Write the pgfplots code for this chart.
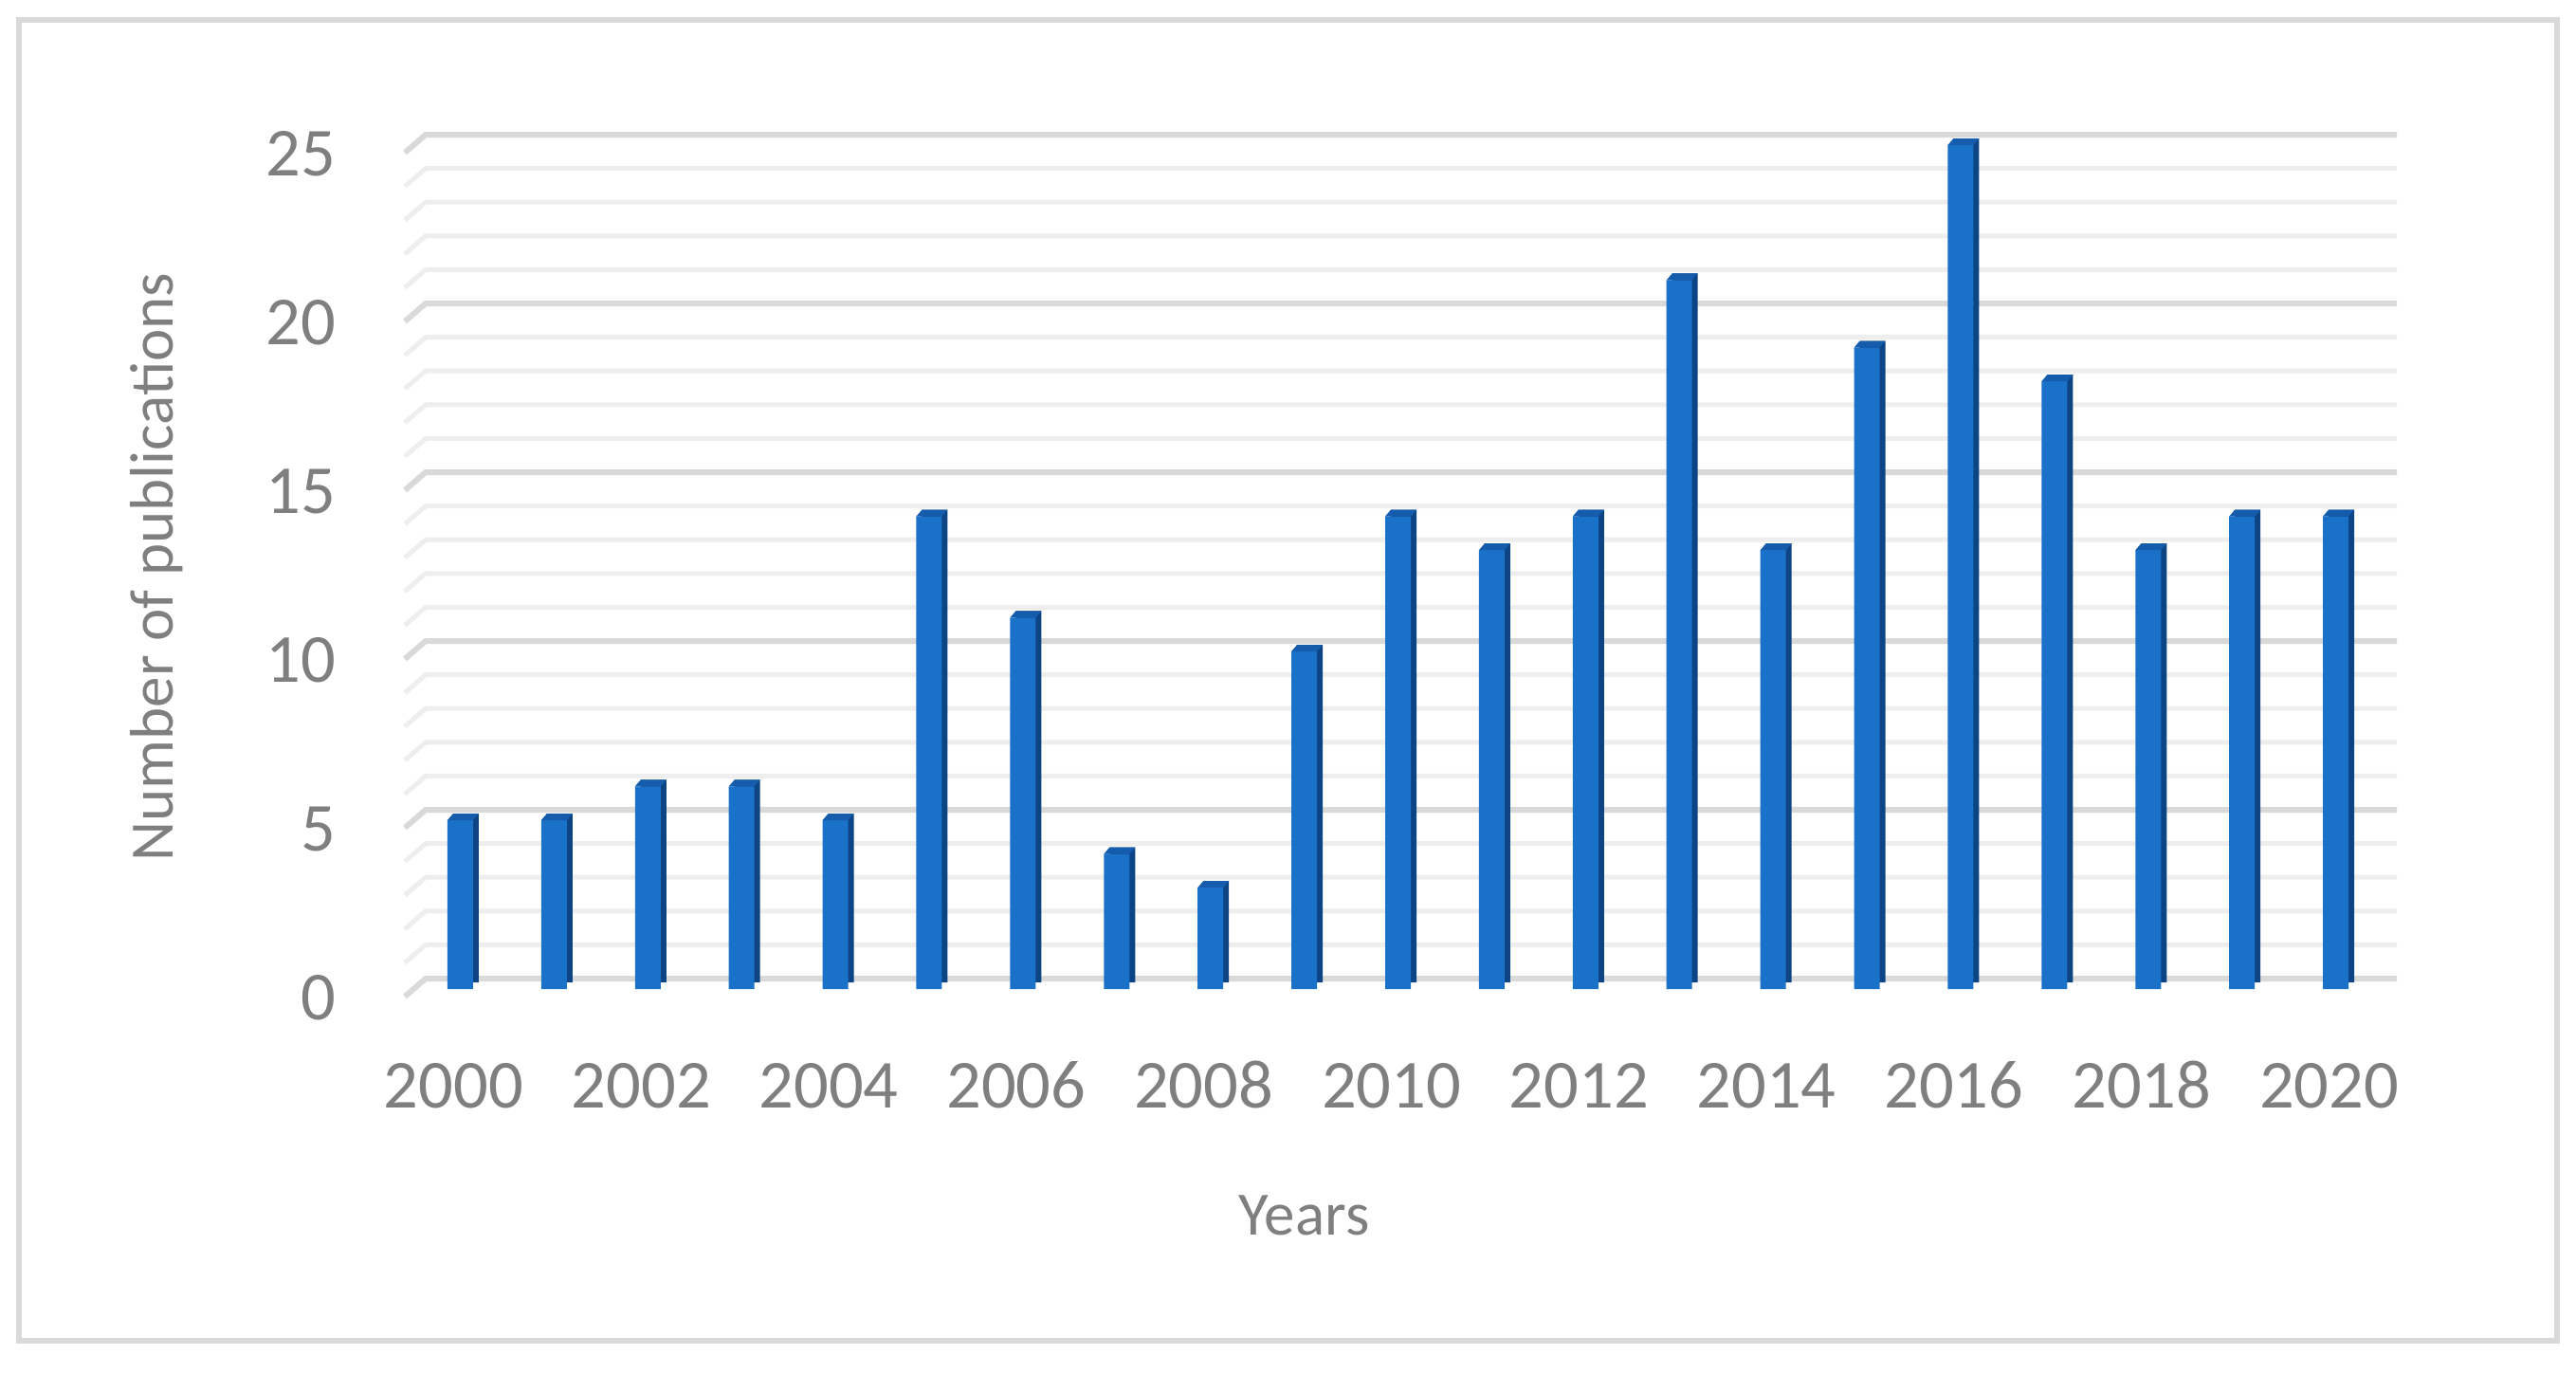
\documentclass[border=0pt]{standalone}
\usepackage{fontspec}
\setmainfont{Carlito}
\usepackage{pgfplots}
\usepackage{pgfplotstable}
\pgfplotsset{compat=1.18}
\definecolor{txt}{RGB}{127,127,127}
\definecolor{barfront}{RGB}{26,113,200}
\definecolor{bartopc}{RGB}{22,92,172}
\definecolor{barside}{RGB}{12,68,132}
\definecolor{gmajor}{RGB}{217,217,217}
\definecolor{gminor}{RGB}{238,238,238}
\definecolor{framecol}{RGB}{217,217,217}

% slanted top face of a bar, drawn at (bar centre, value)
\pgfdeclareplotmark{bartop}{%
  \pgfpathmoveto{\pgfpoint{-3.3pt}{0pt}}%
  \pgfpathlineto{\pgfpoint{2.1pt}{0pt}}%
  \pgfpathlineto{\pgfpoint{3.3pt}{1.4pt}}%
  \pgfpathlineto{\pgfpoint{-2.1pt}{1.4pt}}%
  \pgfpathclose
  \pgfusepathqfill}

% publications per year (idx 0 = 2000)
\pgfplotstableread{
idx year n
0  2000 5
1  2001 5
2  2002 6
3  2003 6
4  2004 5
5  2005 14
6  2006 11
7  2007 4
8  2008 3
9  2009 10
10 2010 14
11 2011 13
12 2012 14
13 2013 21
14 2014 13
15 2015 19
16 2016 25
17 2017 18
18 2018 13
19 2019 14
20 2020 14
}\pubs

\begin{document}
\begin{tikzpicture}
\begin{axis}[
  at={(0,0)}, anchor=south west,
  scale only axis, width=415.8pt, height=178pt,
  xmin=-0.51, xmax=20.51, ymin=0, ymax=25,
  clip=false, set layers,
  axis line style={draw=none}, major tick length=0pt,
  xtick={0,2,...,20},
  xticklabels={2000,2002,2004,2006,2008,2010,2012,2014,2016,2018,2020},
  ytick={0,5,...,25},
  /pgf/number format/assume math mode=true,
  tick label style={font=\fontsize{14.5}{17}\selectfont, text=txt, inner sep=0pt},
  xticklabel style={anchor=base, yshift=-25pt, xshift=-2pt},
  yticklabel style={anchor=east, xshift=-16.6pt, yshift=-1.8pt},
  xlabel={Years}, ylabel={Number of publications},
  label style={font=\fontsize{13}{16}\selectfont, text=txt, inner sep=0pt},
  xlabel style={at={([yshift=-51.8pt]axis cs:8.97,0)}, anchor=base},
  ylabel style={at={([xshift=-51pt]rel axis cs:0,0.5)}, anchor=base},
  bar width=5.4pt,
]
% gridlines on the back wall, with the short slanted stub on the left
\pgfplotsinvokeforeach{1,2,3,4,6,7,8,9,11,12,13,14,16,17,18,19,21,22,23,24}{
  \draw[gminor, line width=1pt, on layer=axis grid]
    ([xshift=-2.2pt,yshift=-1.6pt]axis cs:-0.51,#1) --
    ([xshift=2.2pt,yshift=2.2pt]axis cs:-0.51,#1) --
    ([xshift=2.2pt,yshift=2.2pt]axis cs:20.51,#1);
}
\pgfplotsinvokeforeach{0,5,10,15,20,25}{
  \draw[gmajor, line width=1.2pt, on layer=axis grid]
    ([xshift=-2.2pt,yshift=-1.6pt]axis cs:-0.51,#1) --
    ([xshift=2.2pt,yshift=2.2pt]axis cs:-0.51,#1) --
    ([xshift=2.2pt,yshift=2.2pt]axis cs:20.51,#1);
}
% dark side, front face, then the slanted top
\addplot[ybar, draw=none, fill=barside, bar shift=0.6pt, yshift=1.4pt] table[x=idx,y=n]{\pubs};
\addplot[ybar, draw=none, fill=barfront, bar shift=-0.6pt] table[x=idx,y=n]{\pubs};
\addplot[only marks, mark=bartop, color=bartopc] table[x=idx,y=n]{\pubs};
\end{axis}
\draw[framecol, line width=1.2pt] (-83.6pt,-74.2pt) rectangle (451.8pt,204.4pt);
\path (-87.6pt,-80.8pt) rectangle (455.8pt,208.6pt);
\end{tikzpicture}
\end{document}
